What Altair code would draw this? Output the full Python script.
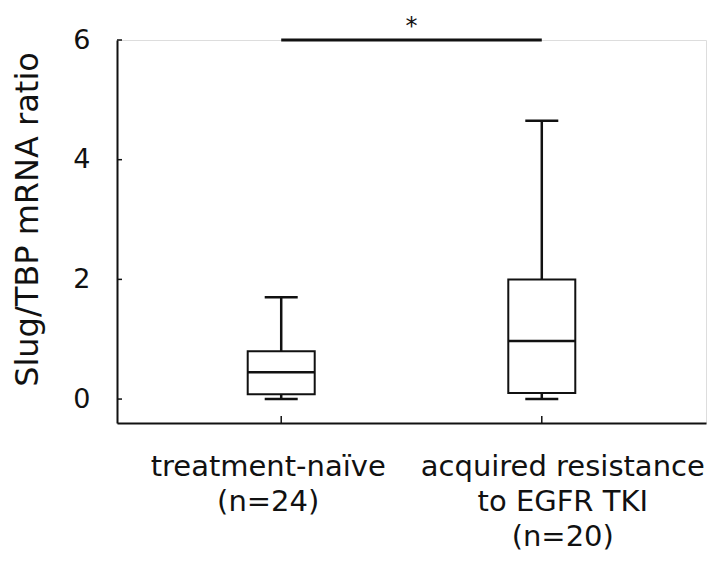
import altair as alt
import pandas as pd

# ---- data ----
groups = ["treatment-naïve", "acquired resistance to EGFR TKI"]
group_pos = [1, 2]
label_lines = [["treatment-naïve", "(n=24)"], ["acquired resistance", "to EGFR TKI", "(n=20)"]]
mins = [0.0, 0.0]
q1s = [0.08, 0.10]
medians = [0.45, 0.97]
q3s = [0.80, 2.00]
maxs = [1.70, 4.65]
y_ticks = [0, 2, 4, 6]
sig_label = "*"

W, H = 589, 383
FONT = "DejaVu Sans"
INK = "#111111"

df = pd.DataFrame({
    "group": groups, "pos": group_pos, "min": mins, "q1": q1s,
    "median": medians, "q3": q3s, "max": maxs,
})
lab = pd.DataFrame({"pos": group_pos, "label": label_lines})
ticks_df = pd.DataFrame({"v": y_ticks})
sig_df = pd.DataFrame({"a": [group_pos[0]], "b": [group_pos[1]], "y": [6.0],
                       "mid": [(group_pos[0] + group_pos[1]) / 2], "t": [sig_label]})

xs = alt.Scale(domain=[0.389, 2.611], nice=False, zero=False)
ys = alt.Scale(domain=[-0.4, 6], nice=False, zero=False)

x_axis = alt.Axis(labels=False, ticks=False, grid=False, title=None,
                  domainColor=INK, domainWidth=2)
y_axis = alt.Axis(values=y_ticks, format="d", ticks=False, grid=False, domainColor=INK, domainWidth=2,
                  labelFont=FONT, labelFontSize=27, labelColor=INK, labelPadding=27,
                  title="Slug/TBP mRNA ratio", titleFont=FONT, titleFontSize=32,
                  titleFontWeight="normal", titleColor=INK, titleAngle=-90,
                  titleX=-90, titleY=179, titleAlign="center", titleBaseline="middle")

base = alt.Chart(df)

whisk_hi = base.mark_rule(color=INK, strokeWidth=2.5).encode(
    x=alt.X("pos:Q", scale=xs, axis=x_axis),
    y=alt.Y("q3:Q", scale=ys, axis=y_axis),
    y2="max:Q")
whisk_lo = base.mark_rule(color=INK, strokeWidth=2.5).encode(
    x=alt.X("pos:Q", scale=xs), y=alt.Y("min:Q", scale=ys), y2="q1:Q")
box = base.mark_bar(size=67, fill="white", stroke=INK, strokeWidth=2).encode(
    x=alt.X("pos:Q", scale=xs), y=alt.Y("q1:Q", scale=ys), y2="q3:Q")
med = base.mark_tick(orient="horizontal", size=67, thickness=2.5, color=INK, opacity=1).encode(
    x=alt.X("pos:Q", scale=xs), y=alt.Y("median:Q", scale=ys))
cap_hi = base.mark_tick(orient="horizontal", size=33, thickness=2.5, color=INK, opacity=1).encode(
    x=alt.X("pos:Q", scale=xs), y=alt.Y("max:Q", scale=ys))
cap_lo = base.mark_tick(orient="horizontal", size=33, thickness=2.5, color=INK, opacity=1).encode(
    x=alt.X("pos:Q", scale=xs), y=alt.Y("min:Q", scale=ys))

# inward ticks
ytk = alt.Chart(ticks_df).mark_rule(color=INK, strokeWidth=1.5).encode(
    y=alt.Y("v:Q", scale=ys), x=alt.value(0), x2=alt.value(5))
xtk = base.mark_rule(color=INK, strokeWidth=1.5).encode(
    x=alt.X("pos:Q", scale=xs), y=alt.value(H - 7), y2=alt.value(H))

sig = alt.Chart(sig_df).mark_rule(color=INK, strokeWidth=3).encode(
    x=alt.X("a:Q", scale=xs), x2="b:Q", y=alt.Y("y:Q", scale=ys))
star = alt.Chart(sig_df).mark_text(font=FONT, fontSize=24, color=INK, baseline="alphabetic",
                                   dy=-6).encode(
    x=alt.X("mid:Q", scale=xs), y=alt.Y("y:Q", scale=ys), text="t:N")

def label_layer(idx, dx):
    return alt.Chart(lab.iloc[[idx]]).mark_text(
        font=FONT, fontSize=29, color=INK, align="center", baseline="alphabetic",
        lineHeight=35, dx=dx).encode(
        x=alt.X("pos:Q", scale=xs), y=alt.value(H + 53), text="label")

lab1 = label_layer(0, -13)
lab2 = label_layer(1, 21)

chart = alt.layer(whisk_hi, whisk_lo, box, med, cap_hi, cap_lo, ytk, xtk, sig, star, lab1, lab2).properties(
    width=W, height=H,
    autosize=alt.AutoSizeParams(type="none"),
    padding={"left": 117, "top": 40, "right": 17, "bottom": 140},
).configure_view(stroke=None).configure(background="white")

chart.save("out.html", embed_options={"renderer": "svg", "actions": False})
